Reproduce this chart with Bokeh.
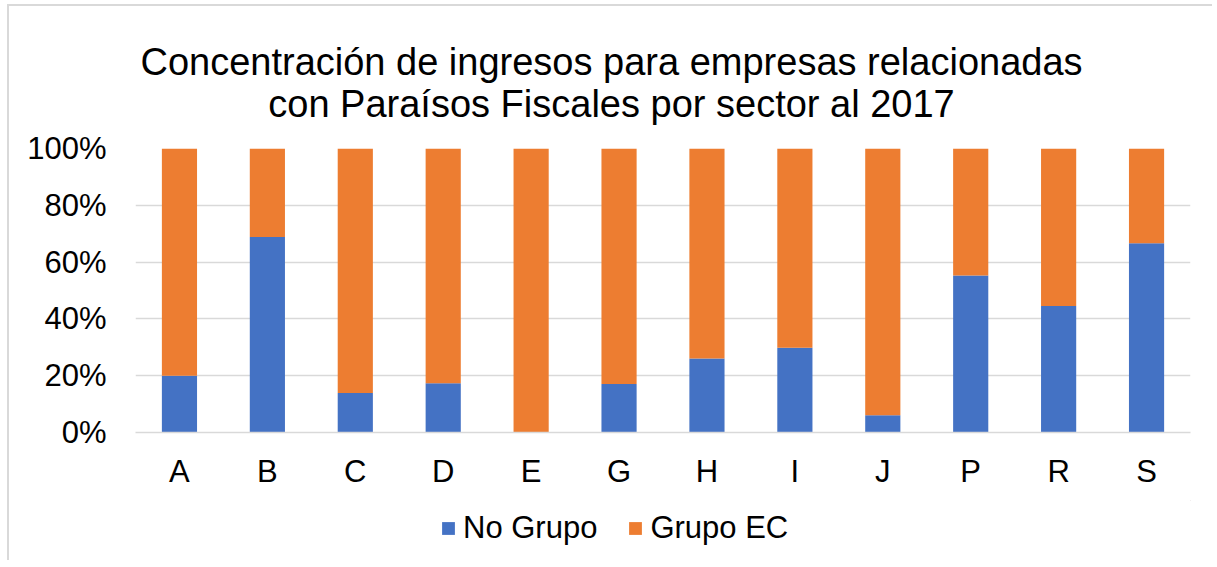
from bokeh.plotting import figure
from bokeh.layouts import column
from bokeh.models import ColumnDataSource, FactorRange, Legend, LegendItem, NumeralTickFormatter, FixedTicker
from bokeh.core.properties import value
from bokeh.embed import file_html
from bokeh.resources import INLINE

categories = ["A", "B", "C", "D", "E", "G", "H", "I", "J", "P", "R", "S"]
no_grupo = [0.200, 0.688, 0.139, 0.173, 0.0, 0.171, 0.261, 0.298, 0.061, 0.553, 0.445, 0.666]
grupo_ec = [round(1 - v, 3) for v in no_grupo]
series = ["No Grupo", "Grupo EC"]
colors = ["#4472C4", "#ED7D31"]
y_ticks = [0, 0.2, 0.4, 0.6, 0.8, 1.0]
title_lines = ["Concentración de ingresos para empresas relacionadas",
               "con Paraísos Fiscales por sector al 2017"]

FONT = "Liberation Sans"
W = 1212
LEFT, RIGHT = 135, 22          # frame borders (px)
TOP_H = 128                    # height of the title band
PAD_TOP = 20                   # space above the plot frame inside the chart figure
FRAME_H = 284                  # plot frame height
BOTTOM = 68                    # space for the category labels

def strip(fig):
    fig.xgrid.grid_line_color = None
    fig.ygrid.grid_line_color = None
    fig.border_fill_color = None
    fig.background_fill_color = None
    fig.outline_line_color = None

# ---- title band (text placed in pixel units of an axis-less strip) ----
frame_w = W - LEFT - RIGHT
tf = figure(width=W, height=TOP_H, output_backend="svg", toolbar_location=None,
            x_axis_type=None, y_axis_type=None, x_range=(0, frame_w), y_range=(0, TOP_H),
            min_border=0, min_border_left=LEFT, min_border_right=RIGHT)
strip(tf)
center_x = 611 - LEFT
tf.text(x=[center_x, center_x], y=[TOP_H - 61, TOP_H - 103], text=title_lines,
        text_align="center", text_baseline="alphabetic",
        text_font=value(FONT), text_font_size="38px", text_color="#000000")

# ---- main stacked bar chart ----
source = ColumnDataSource(data=dict(cat=categories, no_grupo=no_grupo, grupo_ec=grupo_ec))
p = figure(
    x_range=FactorRange(*categories, range_padding=0),
    y_range=(0, 1),
    width=W, height=PAD_TOP + FRAME_H + BOTTOM,
    output_backend="svg", toolbar_location=None,
    min_border_left=LEFT, min_border_right=RIGHT, min_border_top=PAD_TOP, min_border_bottom=BOTTOM,
)
renderers = p.vbar_stack(["no_grupo", "grupo_ec"], x="cat", width=0.4, color=colors,
                         line_color=None, source=source)

p.border_fill_color = None
p.background_fill_color = None
p.outline_line_color = None
p.xgrid.grid_line_color = None
p.ygrid.grid_line_color = "#d9d9d9"
p.ygrid.grid_line_width = 1.5
p.yaxis.ticker = FixedTicker(ticks=y_ticks)
p.yaxis.formatter = NumeralTickFormatter(format="0%")
p.yaxis.axis_line_color = None
p.yaxis.major_tick_line_color = None
p.yaxis.minor_tick_line_color = None
p.yaxis.major_label_standoff = 23
p.xaxis.axis_line_color = "#d9d9d9"
p.xaxis.axis_line_width = 1.5
p.xaxis.major_tick_line_color = None
p.xaxis.minor_tick_line_color = None
p.xaxis.major_label_standoff = 15
for ax in (p.xaxis, p.yaxis):
    ax.major_label_text_font = FONT
    ax.major_label_text_font_size = "31px"
    ax.major_label_text_color = "#000000"

# ---- legend row, drawn in a small axis-less strip below the chart ----
lf = figure(width=W, height=60, output_backend="svg", toolbar_location=None,
            x_axis_type=None, y_axis_type=None, x_range=(0, 1), y_range=(0, 1),
            min_border=0, min_border_left=LEFT, min_border_right=RIGHT)
strip(lf)
offscreen = ColumnDataSource(data=dict(x=[5], top=[5]))
legend_renderers = [lf.vbar(x="x", top="top", bottom=4, width=0.1, source=offscreen,
                            color=c, line_color=None)
                    for c in colors]
legend = Legend(
    items=[LegendItem(label=s, renderers=[r]) for s, r in zip(series, legend_renderers)],
    location=(440 - LEFT, 14), orientation="horizontal",
    label_text_font=FONT, label_text_font_size="31px", label_text_color="#000000",
    glyph_width=16, glyph_height=16, label_standoff=7, spacing=30,
    padding=0, margin=0, border_line_color=None, background_fill_alpha=0,
    label_height=32,
)
lf.add_layout(legend, "center")

layout = column(tf, p, lf, spacing=0)
# light chart-area border (left and top edges) behind the transparent figures
layout.styles = {
    "background": ("linear-gradient(#d9d9d9, #d9d9d9) 7px 4px / 2px 100% no-repeat, "
                   "linear-gradient(#d9d9d9, #d9d9d9) 7px 4px / 100% 2px no-repeat, #ffffff"),
}
open("out.html", "w").write(file_html(layout, INLINE))
